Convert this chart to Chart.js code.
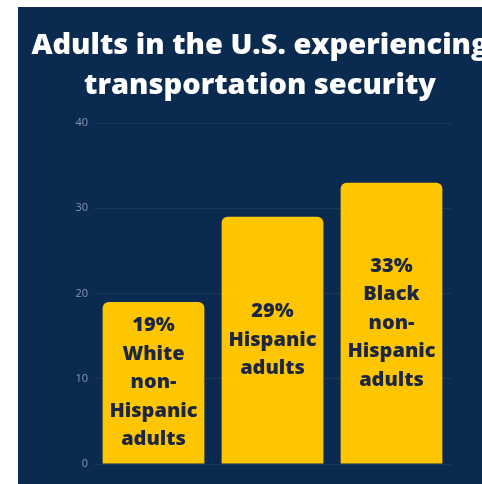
<!DOCTYPE html>
<html lang="en">
<head>
    <meta charset="UTF-8">
    <title>Transportation security</title>
    <script src="https://cdn.jsdelivr.net/npm/chart.js"></script>
    <style>
        html, body {
            margin: 0;
            padding: 0;
            background: #ffffff;
            overflow: hidden;
            width: 482px;
            height: 484px;
        }

        #myChart {
            position: absolute;
            left: 18px;
            top: 7px;
            background: #0b2a50;
        }
    </style>
</head>
<body>

<canvas id="myChart" width="484" height="477"></canvas>

<script>
    // Dados do gráfico
    const groups = ['White non-Hispanic adults', 'Hispanic adults', 'Black non-Hispanic adults'];
    const groupLines = [
        ['White', 'non-', 'Hispanic', 'adults'],
        ['Hispanic', 'adults'],
        ['Black', 'non-', 'Hispanic', 'adults']
    ];
    const percentages = [19, 29, 33];
    const yTicks = [0, 10, 20, 30, 40];

    // Escreve o texto centrado dentro de cada barra
    const barText = {
        id: 'barText',
        afterDatasetsDraw(chart) {
            const ctx = chart.ctx;
            const meta = chart.getDatasetMeta(0);
            ctx.save();
            ctx.font = '800 20px "Open Sans"';
            ctx.fillStyle = '#1c2640';
            ctx.textAlign = 'center';
            ctx.textBaseline = 'middle';
            const lineH = 28.5;
            meta.data.forEach((bar, i) => {
                const lines = [percentages[i] + '%'].concat(groupLines[i]);
                const mid = (bar.y + bar.base) / 2;
                const start = mid - (lines.length - 1) * lineH / 2;
                lines.forEach((t, j) => ctx.fillText(t, bar.x, start + j * lineH));
            });
            ctx.restore();
        }
    };

    function createChart() {
        const ctx = document.getElementById('myChart').getContext('2d');

        new Chart(ctx, {
            type: 'bar',
            data: {
                labels: groups,
                datasets: [{
                    data: percentages,
                    backgroundColor: '#fdc600',
                    borderRadius: 6,
                    borderSkipped: 'bottom',
                    barPercentage: 0.855,
                    categoryPercentage: 1
                }]
            },
            options: {
                responsive: false,
                animation: false,
                devicePixelRatio: 1,
                layout: {
                    padding: { left: 0, right: 0, bottom: 20, top: 0 }
                },
                plugins: {
                    legend: { display: false },
                    tooltip: { enabled: false },
                    title: {
                        display: true,
                        text: ['Adults in the U.S. experiencing', 'transportation security'],
                        color: '#ffffff',
                        font: { family: 'Open Sans', size: 29, weight: '800', lineHeight: 1.38 },
                        padding: { top: 19, bottom: 17 }
                    }
                },
                scales: {
                    x: {
                        display: false
                    },
                    y: {
                        min: 0,
                        max: 40,
                        afterFit(scale) { scale.width = 76; },
                        afterBuildTicks(scale) { scale.ticks = yTicks.map(v => ({ value: v })); },
                        border: { display: false },
                        grid: {
                            color: 'rgba(255, 255, 255, 0.07)',
                            drawTicks: false
                        },
                        ticks: {
                            color: '#8696b0',
                            padding: 6,
                            font: { family: 'Open Sans', size: 11 }
                        }
                    },
                    // eixo vazio à direita, só para reservar espaço
                    yRight: {
                        position: 'right',
                        afterFit(scale) { scale.width = 51; },
                        border: { display: false },
                        grid: { display: false },
                        ticks: { display: false }
                    }
                }
            },
            plugins: [barText]
        });
    }

    document.addEventListener('DOMContentLoaded', createChart);
</script>

</body>
</html>
